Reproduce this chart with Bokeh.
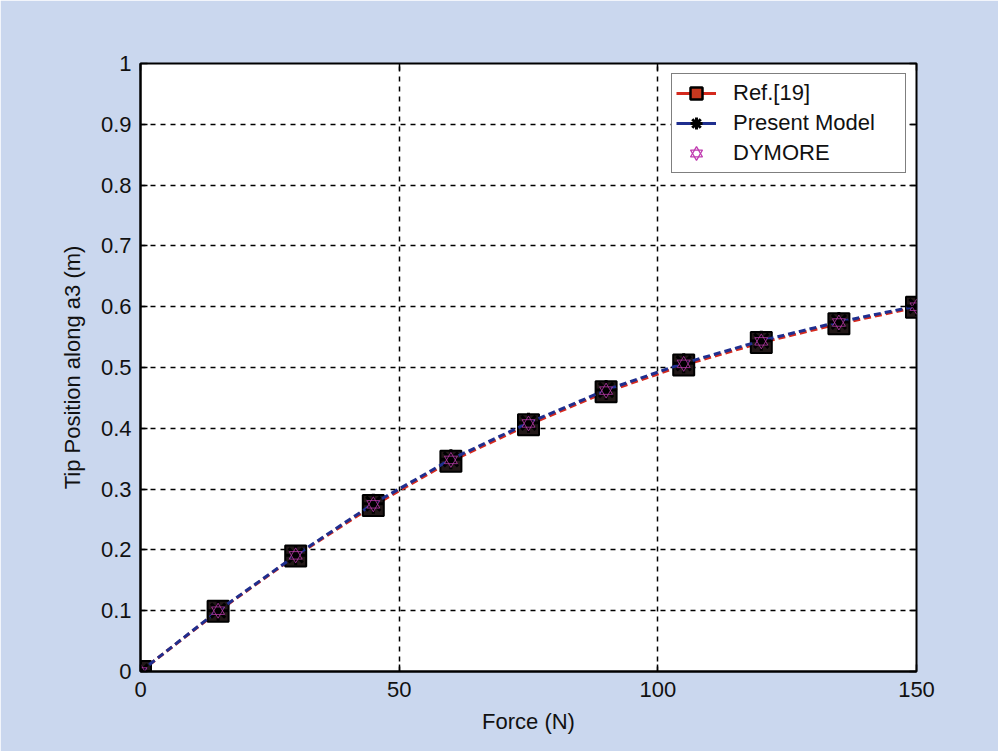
from bokeh.plotting import figure
from bokeh.models import ColumnDataSource, Legend, LegendItem, FixedTicker, LinearAxis, Range1d
from bokeh.embed import file_html
from bokeh.resources import INLINE

# ---- data ----
force = [0, 15, 30, 45, 60, 75, 90, 105, 120, 135, 150]
ref19 = [0.0, 0.099, 0.190, 0.273, 0.346, 0.406, 0.460, 0.504, 0.541, 0.572, 0.599]
present = [0.0, 0.100, 0.191, 0.276, 0.349, 0.409, 0.463, 0.507, 0.544, 0.575, 0.601]
dymore = [0.0, 0.100, 0.191, 0.275, 0.348, 0.408, 0.462, 0.506, 0.543, 0.574, 0.600]

x_ticks = [0, 50, 100, 150]
x_tick_labels = ["0", "50", "100", "150"]
y_ticks = [0.0, 0.1, 0.2, 0.3, 0.4, 0.5, 0.6, 0.7, 0.8, 0.9, 1.0]
y_tick_labels = ["0", "0.1", "0.2", "0.3", "0.4", "0.5", "0.6", "0.7", "0.8", "0.9", "1"]

FONT = "Liberation Sans"
BG = "#cad7ee"

src = ColumnDataSource(dict(x=force, ref=ref19, pm=present, dy=dymore))

p = figure(width=998, height=751, output_backend="svg", toolbar_location=None,
           x_range=Range1d(0, 150), y_range=Range1d(0, 1),
           min_border_left=140, min_border_right=82, min_border_top=63, min_border_bottom=80)
p.background_fill_color = "white"
p.border_fill_color = BG
p.outline_line_color = "black"
p.outline_line_width = 2

# axes
for ax, ticks, labels in ((p.xaxis[0], x_ticks, x_tick_labels), (p.yaxis[0], y_ticks, y_tick_labels)):
    ax.ticker = FixedTicker(ticks=ticks)
    ax.major_label_overrides = {t: l for t, l in zip(ticks, labels)}
    ax.minor_tick_line_color = None
    ax.major_tick_in = 7
    ax.major_tick_out = 0
    ax.major_tick_line_width = 1.5
    ax.axis_line_width = 2
    ax.major_label_text_font = FONT
    ax.major_label_text_font_size = "22px"
    ax.major_label_text_color = "#111111"
    ax.axis_label_text_font = FONT
    ax.axis_label_text_font_size = "22px"
    ax.axis_label_text_font_style = "normal"
    ax.axis_label_text_color = "#111111"

p.xaxis.axis_label = "Force (N)"
p.yaxis.axis_label = "Tip Position along a3 (m)"
p.xaxis.major_label_standoff = 10
p.yaxis.major_label_standoff = 9
p.xaxis.axis_label_standoff = 9
p.yaxis.axis_label_standoff = 13

# tick marks on top and right (box style)
top = LinearAxis(ticker=FixedTicker(ticks=x_ticks), major_label_overrides={t: "" for t in x_ticks},
                 major_tick_in=7, major_tick_out=0, minor_tick_line_color=None,
                 axis_line_color=None, major_tick_line_width=1.5)
right = LinearAxis(ticker=FixedTicker(ticks=y_ticks), major_label_overrides={t: "" for t in y_ticks},
                   major_tick_in=7, major_tick_out=0, minor_tick_line_color=None,
                   axis_line_color=None, major_tick_line_width=1.5)
p.add_layout(top, "above")
p.add_layout(right, "right")

# grid
p.xgrid.ticker = FixedTicker(ticks=x_ticks)
p.ygrid.ticker = FixedTicker(ticks=y_ticks)
for g in (p.xgrid[0], p.ygrid[0]):
    g.grid_line_color = "black"
    g.grid_line_dash = "5 5"
    g.grid_line_width = 1.5
    g.grid_line_alpha = 1.0

# series
ref_line = p.line("x", "ref", source=src, line_color="#d42a1e", line_width=3, line_dash="7 4")
ref_mk = p.scatter("x", "ref", source=src, marker="square", size=21,
                   fill_color="#221818", line_color="black", line_width=2)
pm_line = p.line("x", "pm", source=src, line_color="#1f2f8f", line_width=3, line_dash="7 4")
pm_mk = p.scatter("x", "pm", source=src, marker="asterisk", size=20,
                  line_color="black", line_width=3)
dy_up = p.scatter("x", "dy", source=src, marker="triangle", size=13,
                  fill_color=None, line_color="#c03cb0", line_width=1, line_alpha=0.75)
dy_dn = p.scatter("x", "dy", source=src, marker="inverted_triangle", size=13,
                  fill_color=None, line_color="#c03cb0", line_width=1, line_alpha=0.75)

# legend-only glyphs (nothing drawn in the plot: NaN data)
nan = float("nan")
lsrc = ColumnDataSource(dict(x=[nan], y=[nan]))
leg_ref_line = p.line("x", "y", source=lsrc, line_color="#d42a1e", line_width=3)
leg_sq = p.scatter("x", "y", source=lsrc, marker="square", size=20,
                   fill_color="#c8381f", line_color="black", line_width=2.5)
leg_pm_line = p.line("x", "y", source=lsrc, line_color="#1f2f8f", line_width=3)
leg_ast = p.scatter("x", "y", source=lsrc, marker="asterisk", size=20,
                    line_color="black", line_width=3)
leg_up = p.scatter("x", "y", source=lsrc, marker="triangle", size=20,
                   fill_color=None, line_color="#c03cb0", line_width=1.3)
leg_dn = p.scatter("x", "y", source=lsrc, marker="inverted_triangle", size=20,
                   fill_color=None, line_color="#c03cb0", line_width=1.3)

legend = Legend(items=[
    LegendItem(label="Ref.[19]", renderers=[leg_ref_line, leg_sq]),
    LegendItem(label="Present Model", renderers=[leg_pm_line, leg_ast]),
    LegendItem(label="DYMORE", renderers=[leg_up, leg_dn]),
], location="top_right")
legend.label_text_font = FONT
legend.label_text_font_size = "22px"
legend.label_text_color = "#111111"
legend.border_line_color = "black"
legend.border_line_width = 1.5
legend.background_fill_color = "white"
legend.background_fill_alpha = 1.0
legend.glyph_width = 40
legend.glyph_height = 30
legend.label_height = 30
legend.label_width = 168
legend.spacing = 0
legend.padding = 4
legend.margin = 10
legend.label_standoff = 17
p.add_layout(legend, "center")

open("out.html", "w").write(file_html(p, INLINE))
